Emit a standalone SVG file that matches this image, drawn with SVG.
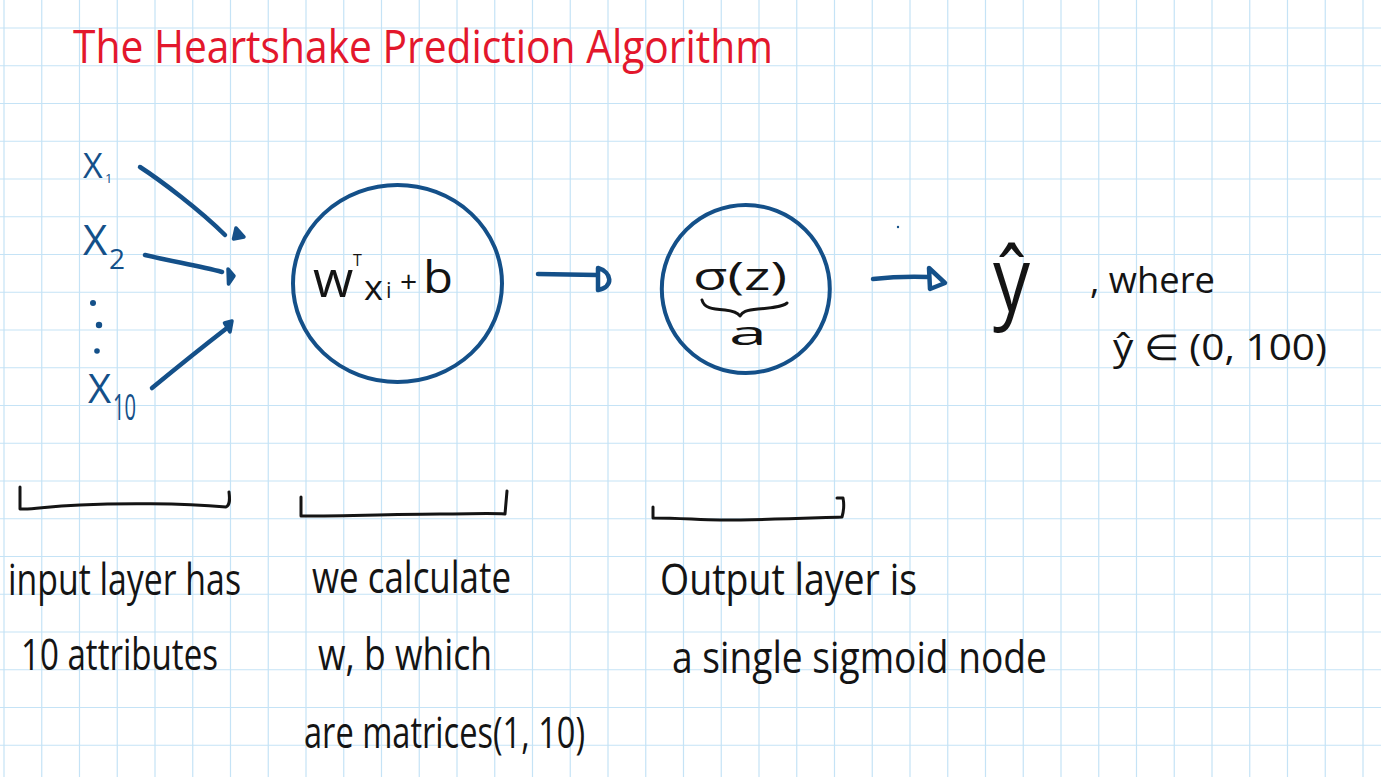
<svg xmlns="http://www.w3.org/2000/svg" width="1381" height="777" viewBox="0 0 1381 777">
<style>
.grid{stroke:#c5e3f6;stroke-width:1.2;fill:none}
.t{font-family:"Open Sans","Noto Sans","Liberation Sans",sans-serif;fill:#141414}
.blue{fill:#145089}
.red{fill:#e3172c}
.conn{stroke:#145089;stroke-width:4.5;fill:none;stroke-linecap:round;stroke-linejoin:round}
.head{stroke:#145089;stroke-width:3.5;fill:#145089;stroke-linejoin:round}
.node{stroke:#145089;stroke-width:4;fill:none}
.ink{stroke:#141414;stroke-width:3;fill:none;stroke-linecap:round;stroke-linejoin:round}
</style>
<rect width="1381" height="777" fill="#ffffff"/>
<path class="grid" d="M4 0V777M41.75 0V777M79.5 0V777M117.25 0V777M155 0V777M192.75 0V777M230.5 0V777M268.25 0V777M306 0V777M343.75 0V777M381.5 0V777M419.25 0V777M457 0V777M494.75 0V777M532.5 0V777M570.25 0V777M608 0V777M645.75 0V777M683.5 0V777M721.25 0V777M759 0V777M796.75 0V777M834.5 0V777M872.25 0V777M910 0V777M947.75 0V777M985.5 0V777M1023.25 0V777M1061 0V777M1098.75 0V777M1136.5 0V777M1174.25 0V777M1212 0V777M1249.75 0V777M1287.5 0V777M1325.25 0V777M1363 0V777M0 28H1381M0 65.75H1381M0 103.5H1381M0 141.25H1381M0 179H1381M0 216.75H1381M0 254.5H1381M0 292.25H1381M0 330H1381M0 367.75H1381M0 405.5H1381M0 443.25H1381M0 481H1381M0 518.75H1381M0 556.5H1381M0 594.25H1381M0 632H1381M0 669.75H1381M0 707.5H1381M0 745.25H1381"/>

<g id="title">
<text class="t red" x="73" y="63" font-size="46" textLength="700" lengthAdjust="spacingAndGlyphs">The Heartshake Prediction Algorithm</text>
</g>

<g id="input-x1">
<text class="t blue" x="83" y="178" font-size="34">X</text>
<text class="t blue" x="105" y="183" font-size="13">1</text>
</g>
<g id="input-x2">
<text class="t blue" x="83" y="255" font-size="42">X</text>
<text class="t blue" x="109" y="269" font-size="28">2</text>
</g>
<g id="input-dots" fill="#145089">
<circle cx="93" cy="303" r="3"/>
<circle cx="99" cy="325" r="3.2"/>
<circle cx="97" cy="351" r="2.8"/>
</g>
<g id="input-x10">
<text class="t blue" x="88" y="403" font-size="40">X</text>
<text class="t blue" x="113" y="420" font-size="36" textLength="23" lengthAdjust="spacingAndGlyphs">10</text>
</g>

<g id="node-linear">
<ellipse class="node" cx="397.5" cy="283.5" rx="104.5" ry="98.5"/>
<text class="t" x="313" y="297" font-size="52">w<tspan x="353" y="266" font-size="16">T</tspan></text>
<text class="t" x="364" y="300" font-size="34" textLength="19" lengthAdjust="spacingAndGlyphs">x</text>
<text class="t" x="386" y="298" font-size="22">i</text>
<text class="t" x="400" y="292" font-size="30">+</text>
<text class="t" x="423" y="293" font-size="44" textLength="30" lengthAdjust="spacingAndGlyphs">b</text>
</g>

<g id="node-sigmoid">
<ellipse class="node" cx="745.8" cy="289" rx="84" ry="84"/>
<text class="t" x="693" y="290" font-size="38" textLength="94" lengthAdjust="spacingAndGlyphs">σ(z)</text>
<path class="ink" stroke-width="2.5" d="M702,300 C704,308 712,309 725,310 C735,311 738,313 740,316 C742,312 746,310 758,309 C772,308 782,307 787,303"/>
<text class="t" x="729" y="345" font-size="32" textLength="38" lengthAdjust="spacingAndGlyphs">a</text>
</g>

<g id="output-yhat">
<text class="t" x="993" y="311" font-size="90" textLength="37" lengthAdjust="spacingAndGlyphs">ŷ</text>
</g>

<g id="note-where">
<text class="t" x="1090" y="293" font-size="36" textLength="125" lengthAdjust="spacingAndGlyphs">, where</text>
<text class="t" x="1113" y="360" font-size="36" textLength="214" lengthAdjust="spacingAndGlyphs">ŷ ∈ (0, 100)</text>
</g>

<g id="connectors">
<path class="conn" stroke-width="5.5" d="M140,167 C160,180 200,210 225,235"/>
<path class="head" d="M233.5,239 L236,228 L244,237 Z"/>
<path class="conn" d="M145,255 C175,262 200,266 222,272"/>
<path class="head" d="M228,269 L234,276 L228.5,284 Z"/>
<path class="conn" d="M152,388 C180,365 205,345 227,328"/>
<path class="head" d="M224.5,323 L232,321 L230,332 Z"/>
<path class="conn" d="M538,274 L597,275"/>
<path class="conn" stroke-width="3.5" d="M598,268 C612,272 614,287 598,290 Z"/>
<path class="conn" d="M873,279 Q900,276 928,277"/>
<path class="conn" stroke-width="3.5" d="M929,268 L945,283 L930,289 Z"/>
<circle cx="898" cy="227" r="1.2" fill="#145089"/>
</g>

<g id="bracket-input">
<path class="ink" d="M20,487 L20,509 C35,510 45,506 80,505 C120,503 180,503 226,507 C230,505 230,500 229,492"/>
</g>
<g id="label-input">
<text class="t" x="8" y="595" font-size="44" textLength="233" lengthAdjust="spacingAndGlyphs">input layer has</text>
<text class="t" x="21" y="670" font-size="44" textLength="197" lengthAdjust="spacingAndGlyphs">10 attributes</text>
</g>

<g id="bracket-linear">
<path class="ink" d="M301,497 L301,516 C350,516 400,514 440,514 C470,514 490,513 505,514 L507,491"/>
</g>
<g id="label-linear">
<text class="t" x="312" y="593" font-size="44" textLength="199" lengthAdjust="spacingAndGlyphs">we calculate</text>
<text class="t" x="318" y="670" font-size="44" textLength="174" lengthAdjust="spacingAndGlyphs">w, b which</text>
<text class="t" x="304" y="748" font-size="44" textLength="281" lengthAdjust="spacingAndGlyphs">are matrices(1, 10)</text>
</g>

<g id="bracket-output">
<path class="ink" d="M653,507 L653,518 C680,518 700,520 720,520 C770,520 810,518 842,517 C844,510 844,503 843,498 L837,498"/>
</g>
<g id="label-output">
<text class="t" x="660" y="595" font-size="44" textLength="257" lengthAdjust="spacingAndGlyphs">Output layer is</text>
<text class="t" x="672" y="673" font-size="44" textLength="375" lengthAdjust="spacingAndGlyphs">a single sigmoid node</text>
</g>
</svg>
